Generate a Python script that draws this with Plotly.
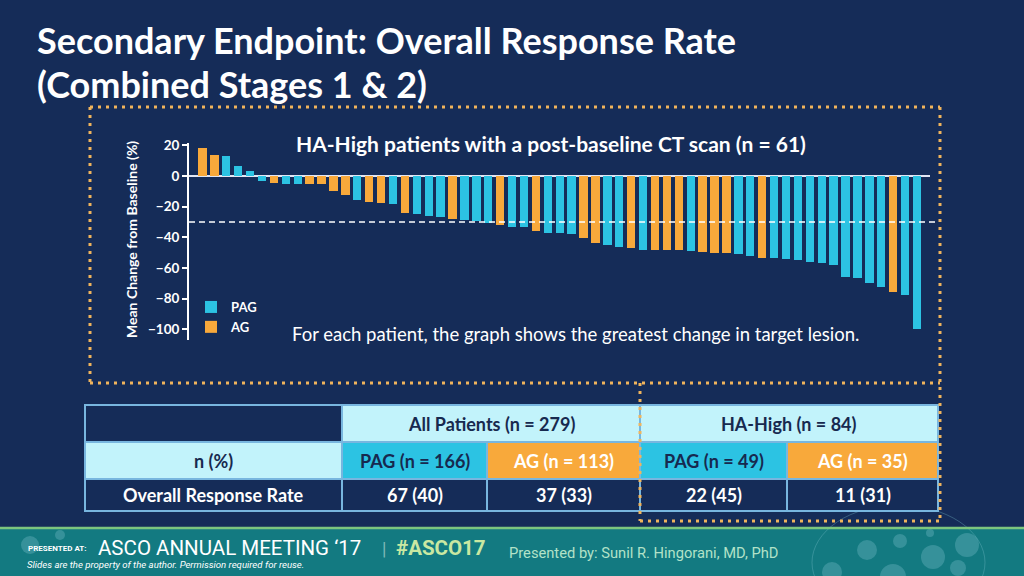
import plotly.graph_objects as go

# ---------------- data ----------------
patients = list(range(1, 62))
arm = ["AG", "AG", "PAG", "PAG", "PAG", "PAG", "AG", "PAG", "PAG", "AG",
       "AG", "AG", "AG", "PAG", "AG", "AG", "PAG", "AG", "PAG", "PAG",
       "PAG", "AG", "PAG", "PAG", "PAG", "AG", "PAG", "PAG", "AG", "PAG",
       "PAG", "PAG", "AG", "AG", "PAG", "PAG", "AG", "PAG", "AG", "AG",
       "AG", "PAG", "AG", "AG", "AG", "PAG", "PAG", "AG", "PAG", "PAG",
       "PAG", "PAG", "PAG", "PAG", "PAG", "PAG", "PAG", "PAG", "AG", "PAG",
       "PAG"]
change = [18, 14, 13, 6.5, 3.5, -3.5, -4.5, -5, -5, -5,
          -5.5, -9.5, -12.5, -15.5, -17, -17.5, -18, -24, -24.5, -26,
          -27, -28, -29, -29.5, -31, -32, -33, -33, -36, -37.5,
          -37.5, -38, -40.5, -43.5, -45, -46.5, -47, -48, -48, -48,
          -48.5, -49, -49.5, -50, -50.5, -51, -52.5, -53.5, -53.5, -54,
          -55, -56, -56.5, -58, -66, -66.5, -69.5, -72.5, -75.5, -77.5,
          -100]
threshold = -30
y_ticks = [20, 0, -20, -40, -60, -80, -100]

table_group_labels = ["All Patients (n = 279)", "HA-High (n = 84)"]
table_arm_labels = ["PAG (n = 166)", "AG (n = 113)", "PAG (n = 49)", "AG (n = 35)"]
table_row_labels = ["n (%)", "Overall Response Rate"]
orr_values = ["67 (40)", "37 (33)", "22 (45)", "11 (31)"]

# ---------------- styling ----------------
NAVY = "#152c58"
CYAN = "#2cc3e3"
ORANGE = "#f8a93b"
LIGHT = "#c2f3fb"
DARKTXT = "#17294f"
BORDER = "#78b6df"
DOTC = "#f0b45c"
FONT = "Lato, 'Open Sans', sans-serif"
NARROW = "'Liberation Sans Narrow', Roboto, sans-serif"

W, H = 1024, 576
L, R, T, B = 189, 94, 143, 236
PW, PH = W - L - R, H - T - B


def px(x):
    return (x - L) / PW


def py(y):
    return (H - B - y) / PH


fig = go.Figure()
for name, color in [("PAG", CYAN), ("AG", ORANGE)]:
    xs = [p for p, a in zip(patients, arm) if a == name]
    ys = [c for c, a in zip(change, arm) if a == name]
    fig.add_trace(go.Bar(x=xs, y=ys, name=name, marker_color=color,
                         marker_line_width=0, width=0.7))

shapes = []
annotations = []

# footer band
shapes.append(dict(type="rect", xref="paper", yref="paper", x0=px(0), x1=px(W),
                   y0=py(528), y1=py(H + 2), fillcolor="#137a81", line_width=0, layer="below"))
shapes.append(dict(type="line", xref="paper", yref="paper", x0=px(0), x1=px(W),
                   y0=py(528), y1=py(528), line=dict(color="#7cc67e", width=2.5)))
# decorative circles in footer
for cx, cy, r in [(867, 550, 10), (900, 541, 7), (933, 557, 12), (967, 545, 12),
                  (832, 572, 10), (893, 577, 13), (958, 568, 8), (930, 533, 4),
                  (30, 545, 9), (60, 535, 5)]:
    shapes.append(dict(type="circle", xref="paper", yref="paper",
                       x0=px(cx - r), x1=px(cx + r), y0=py(cy + r), y1=py(cy - r),
                       fillcolor="rgba(120,190,200,0.35)", line_width=0, layer="below"))
shapes.append(dict(type="circle", xref="paper", yref="paper",
                   x0=px(812), x1=px(985), y0=py(620), y1=py(505),
                   fillcolor="rgba(0,0,0,0)", line=dict(color="rgba(120,190,200,0.35)", width=1),
                   layer="below"))

# threshold dashed line
shapes.append(dict(type="line", xref="paper", yref="y", x0=0, x1=px(936),
                   y0=threshold, y1=threshold,
                   line=dict(color="white", width=1.5, dash="6px,4px")))

# table
rows = [(405, 442), (442, 479), (479, 511)]
cells = [
    (85, 342, 0, NAVY, "", "white"),
    (342, 640, 0, LIGHT, table_group_labels[0], DARKTXT),
    (640, 938, 0, LIGHT, table_group_labels[1], DARKTXT),
    (85, 342, 1, LIGHT, table_row_labels[0], DARKTXT),
    (342, 487, 1, CYAN, table_arm_labels[0], DARKTXT),
    (487, 640, 1, ORANGE, table_arm_labels[1], "white"),
    (640, 787, 1, CYAN, table_arm_labels[2], DARKTXT),
    (787, 938, 1, ORANGE, table_arm_labels[3], "white"),
    (85, 342, 2, NAVY, table_row_labels[1], "white"),
    (342, 487, 2, NAVY, orr_values[0], "white"),
    (487, 640, 2, NAVY, orr_values[1], "white"),
    (640, 787, 2, NAVY, orr_values[2], "white"),
    (787, 938, 2, NAVY, orr_values[3], "white"),
]
for x0, x1, ri, fill, txt, tc in cells:
    y0, y1 = rows[ri]
    shapes.append(dict(type="rect", xref="paper", yref="paper",
                       x0=px(x0), x1=px(x1), y0=py(y1), y1=py(y0),
                       fillcolor=fill, line=dict(color=BORDER, width=2)))
    if txt:
        annotations.append(dict(xref="paper", yref="paper", x=px((x0 + x1) / 2),
                                y=py((y0 + y1) / 2), text=txt, showarrow=False,
                                xanchor="center", yanchor="middle",
                                font=dict(family=FONT, size=18, color=tc, weight="bold")))

# dotted orange outlines
dot = dict(color=DOTC, width=3, dash="3px,5px")
for (x0, y0, x1, y1) in [(90, 107, 940, 107), (90, 107, 90, 383), (90, 383, 940, 383),
                         (940, 107, 940, 521), (640, 383, 640, 521), (640, 521, 940, 521)]:
    shapes.append(dict(type="line", xref="paper", yref="paper",
                       x0=px(x0), x1=px(x1), y0=py(y0), y1=py(y1), line=dot))

# titles and labels
annotations += [
    dict(xref="paper", yref="paper", x=px(35), y=py(40.5), xanchor="left", yanchor="middle",
         text="Secondary Endpoint: Overall Response Rate", showarrow=False,
         font=dict(family=FONT, size=36, color="white", weight="bold")),
    dict(xref="paper", yref="paper", x=px(35), y=py(84.5), xanchor="left", yanchor="middle",
         text="(Combined Stages 1 &amp; 2)", showarrow=False,
         font=dict(family=FONT, size=36, color="white", weight="bold")),
    dict(xref="paper", yref="paper", x=px(551), y=py(143), xanchor="center", yanchor="middle",
         text="HA-High patients with a post-baseline CT scan (n = 61)", showarrow=False,
         font=dict(family=FONT, size=21, color="white", weight="bold")),
    dict(xref="paper", yref="paper", x=px(575), y=py(334), xanchor="center", yanchor="middle",
         text="For each patient, the graph shows the greatest change in target lesion.",
         showarrow=False, font=dict(family=FONT, size=18.5, color="white")),
    dict(xref="paper", yref="paper", x=px(131), y=py(240), xanchor="center", yanchor="middle",
         text="Mean Change from Baseline (%)", textangle=-90, showarrow=False,
         font=dict(family=FONT, size=14, color="white", weight="bold")),
    # footer texts
    dict(xref="paper", yref="paper", x=px(26), y=py(548), xanchor="left", yanchor="middle",
         text="PRESENTED AT:", showarrow=False,
         font=dict(family=NARROW, size=8, color="white", weight="bold")),
    dict(xref="paper", yref="paper", x=px(96), y=py(548), xanchor="left", yanchor="middle",
         text="ASCO ANNUAL MEETING ‘17", showarrow=False,
         font=dict(family=NARROW, size=20.5, color="white")),
    dict(xref="paper", yref="paper", x=px(384), y=py(548), xanchor="center", yanchor="middle",
         text="|", showarrow=False,
         font=dict(family="Roboto, sans-serif", size=18, color="rgba(200,230,220,0.6)")),
    dict(xref="paper", yref="paper", x=px(394), y=py(548), xanchor="left", yanchor="middle",
         text="#ASCO17", showarrow=False,
         font=dict(family=NARROW, size=20.5, color="#c9e8a2", weight="bold")),
    dict(xref="paper", yref="paper", x=px(507), y=py(553), xanchor="left", yanchor="middle",
         text="Presented by: Sunil R. Hingorani, MD, PhD", showarrow=False,
         font=dict(family=NARROW, size=14.7, color="#b2e2c8")),
    dict(xref="paper", yref="paper", x=px(25), y=py(564), xanchor="left", yanchor="middle",
         text="<i>Slides are the property of the author. Permission required for reuse.</i>",
         showarrow=False,
         font=dict(family=NARROW, size=9.6, color="white")),
]

fig.update_layout(
    width=W, height=H,
    margin=dict(l=L, r=R, t=T, b=B),
    paper_bgcolor=NAVY, plot_bgcolor=NAVY,
    barmode="overlay", bargap=0,
    font=dict(family=FONT, color="white"),
    showlegend=True,
    legend=dict(x=px(191), y=py(292), xanchor="left", yanchor="top",
                bgcolor="rgba(0,0,0,0)", font=dict(family=FONT, size=13, color="white", weight="bold"),
                itemwidth=30, tracegroupgap=0),
    shapes=shapes,
    annotations=annotations,
)
fig.update_xaxes(range=[-0.13, 62.09], showticklabels=False, showgrid=False,
                 zeroline=False, showline=False, ticks="")
fig.update_yaxes(range=[-107, 21.5], tickvals=y_ticks, showgrid=False,
                 zeroline=True, zerolinecolor="#e2e6f4", zerolinewidth=2,
                 showline=True, linecolor="white", linewidth=2,
                 ticks="outside", ticklen=5, tickcolor="white", tickwidth=2,
                 tickfont=dict(family=FONT, size=13.5, color="white", weight="bold"))

fig.write_html("out.html")
